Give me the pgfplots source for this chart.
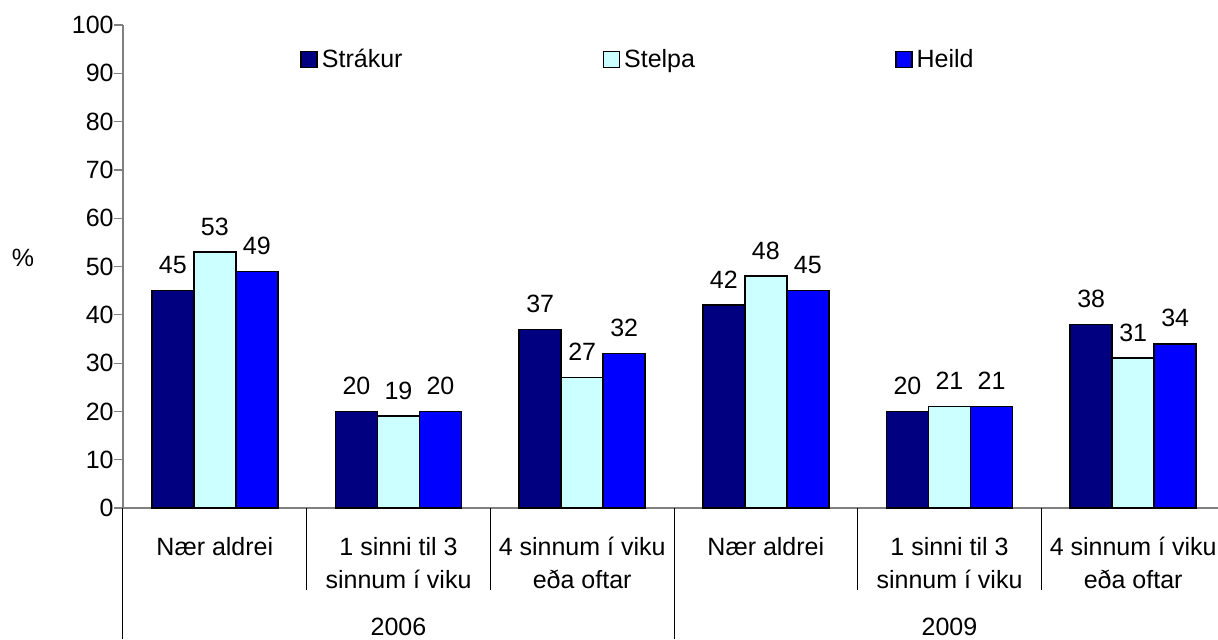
\documentclass[border=0pt]{standalone}
\usepackage{fontspec}
\setmainfont{Liberation Sans}
\usepackage{pgfplots}
\pgfplotsset{compat=1.18}
\definecolor{strakur}{HTML}{000080}
\definecolor{stelpa}{HTML}{CCFFFF}
\definecolor{heild}{HTML}{0000FF}
\pgfplotsset{sqlegend/.style={legend image code/.code={\draw[##1] (0pt,-3.8pt) rectangle (8pt,4.2pt);}}}
\begin{document}
\begin{tikzpicture}
\begin{axis}[
  at={(0,0)}, anchor=south west,
  scale only axis, width=551pt, height=241.5pt,
  ybar=0pt, bar width=21pt,
  xmin=-0.5, xmax=5.5, ymin=0, ymax=100,
  ytick={0,10,...,100},
  yticklabel={\fontsize{12.5}{15}\selectfont\pgfmathprintnumber{\tick}},
  xtick={0,...,5},
  xticklabels={Nær aldrei, {1 sinni til 3\\sinnum í viku}, {4 sinnum í viku\\eða oftar}, Nær aldrei, {1 sinni til 3\\sinnum í viku}, {4 sinnum í viku\\eða oftar}},
  xticklabel style={align=center, anchor=north, inner sep=0pt, font=\fontsize{12.5}{16.5}\selectfont, yshift=-9.9pt},
  yticklabel style={anchor=east, inner sep=0pt, font=\fontsize{12.5}{15}\selectfont},
  x tick style={draw=none},
  y tick style={gray, line width=0.6pt},
  tick align=outside, major tick length=4.5pt,
  axis x line*=bottom, axis y line*=left,
  axis line style={gray, line width=0.8pt, -},
  font=\fontsize{12.5}{15}\selectfont,
  /pgf/number format/assume math mode=true,
  nodes near coords,
  every node near coord/.append style={black, font=\fontsize{12.5}{15}\selectfont, yshift=4.6pt},
  clip=false,
  legend columns=3,
  legend style={at={(0.1606,0.9275)}, anchor=west, draw=none, fill=none, inner sep=0pt,
    font=\fontsize{12.5}{15}\selectfont,
    /tikz/every even column/.append style={column sep=98pt}},
  legend cell align=left,
]
\addplot[fill=strakur, draw=black, line width=0.8pt, sqlegend]
  coordinates {(0,45) (1,20) (2,37) (3,42) (4,20) (5,38)};
\addplot[fill=stelpa, draw=black, line width=0.8pt, sqlegend]
  coordinates {(0,53) (1,19) (2,27) (3,48) (4,21) (5,31)};
\addplot[fill=heild, draw=black, line width=0.8pt, sqlegend]
  coordinates {(0,49) (1,20) (2,32) (3,45) (4,21) (5,34)};
\legend{Strákur, Stelpa, Heild}
\draw[black, line width=0.5pt] (axis cs:-0.5,0) -- ++(0pt,-65.5pt);
\draw[black, line width=0.5pt] (axis cs:2.5,0) -- ++(0pt,-65.5pt);
\draw[black, line width=0.5pt] (axis cs:5.5,0) -- ++(0pt,-65.5pt);
\draw[black, line width=0.5pt] (axis cs:0.5,0) -- ++(0pt,-41pt);
\draw[black, line width=0.5pt] (axis cs:1.5,0) -- ++(0pt,-41pt);
\draw[black, line width=0.5pt] (axis cs:3.5,0) -- ++(0pt,-41pt);
\draw[black, line width=0.5pt] (axis cs:4.5,0) -- ++(0pt,-41pt);
\node[anchor=base, inner sep=0pt] at (axis cs:1,0) [yshift=-63.5pt] {2006};
\node[anchor=base, inner sep=0pt] at (axis cs:4,0) [yshift=-63.5pt] {2009};
\node at (rel axis cs:0,0.5) [xshift=-50pt, yshift=4.25pt] {\%};
\end{axis}
\pgfresetboundingbox
\path[use as bounding box] (-61.5pt,-65.5pt) rectangle (547.5pt,254pt);
\end{tikzpicture}
\end{document}
